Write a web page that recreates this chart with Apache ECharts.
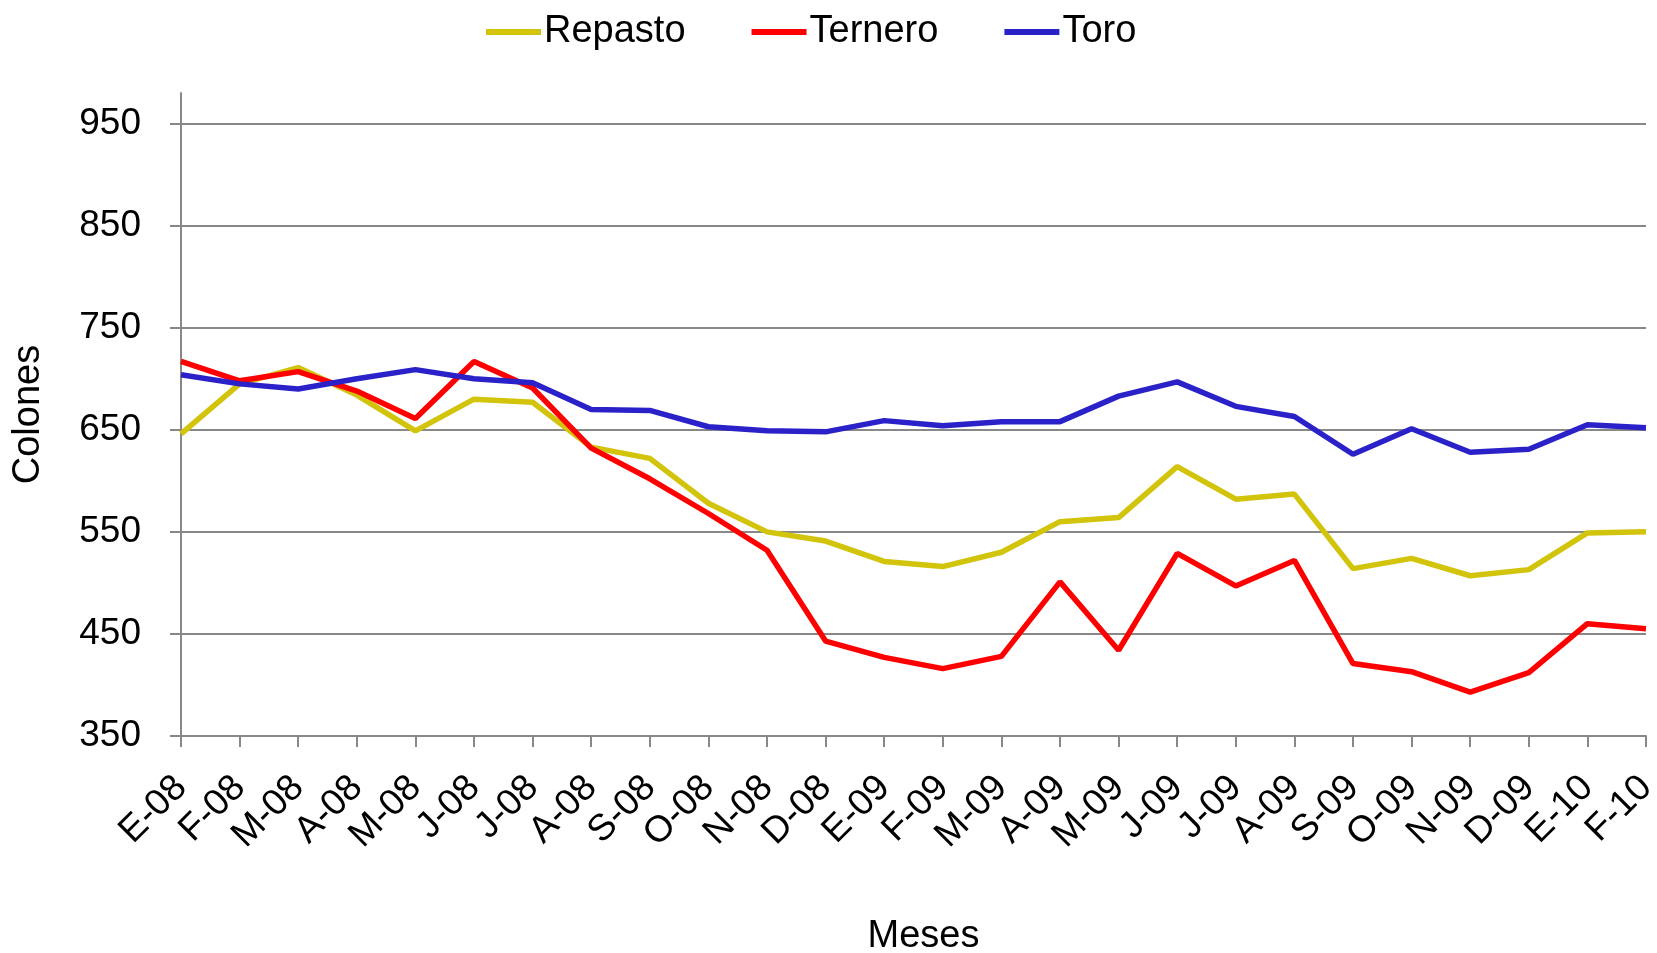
<!DOCTYPE html>
<html>
<head>
<meta charset="utf-8">
<script src="https://cdn.jsdelivr.net/npm/echarts@6/dist/echarts.min.js"></script>
<style>
  html, body { margin: 0; padding: 0; background: #fff; }
  #chart { width: 1657px; height: 953px; }
</style>
</head>
<body>
<div id="chart"></div>
<script>
// meses (duplicados a propósito, como en el original)
var meses = ['E-08', 'F-08', 'M-08', 'A-08', 'M-08', 'J-08', 'J-08', 'A-08', 'S-08', 'O-08', 'N-08', 'D-08',
  'E-09', 'F-09', 'M-09', 'A-09', 'M-09', 'J-09', 'J-09', 'A-09', 'S-09', 'O-09', 'N-09', 'D-09', 'E-10', 'F-10'];

var repasto = [646, 695, 711, 684, 649, 680, 677, 633, 622, 578, 550, 541, 521, 516, 530, 560, 564, 614, 582, 587,
  514, 524, 507, 513, 549, 550];
var ternero = [717, 698, 707, 688, 661, 717, 691, 632, 602, 568, 532, 443, 427, 416, 428, 501, 434, 529, 497, 522,
  421, 413, 393, 412, 460, 455];
var toro = [704, 695, 690, 700, 709, 700, 696, 670, 669, 653, 649, 648, 659, 654, 658, 658, 683, 697, 673, 663,
  626, 651, 628, 631, 655, 652];

var yTicks = [350, 450, 550, 650, 750, 850, 950];

var fuente = '"Liberation Sans", Arial, sans-serif';
var gris = '#888888';

var myChart = echarts.init(document.getElementById('chart'));

function serie(name, data, color) {
  return {
    name: name,
    type: 'line',
    data: data,
    symbol: 'none',
    lineStyle: {width: 5.5, color: color},
    itemStyle: {color: color}
  };
}

myChart.setOption({
  animation: false,
  textStyle: {fontFamily: fuente},
  legend: {
    top: 8,
    left: 481,
    icon: 'rect',
    itemWidth: 55,
    itemHeight: 6,
    itemGap: 66,
    textStyle: {fontSize: 38, color: '#000', fontFamily: fuente, padding: [0, 0, 0, -2]},
    data: ['Repasto', 'Ternero', 'Toro']
  },
  grid: {left: 181, right: 11, top: 93, bottom: 217, outerBoundsMode: 'none'},
  xAxis: {
    type: 'category',
    boundaryGap: false,
    data: meses,
    name: 'Meses',
    nameLocation: 'middle',
    nameGap: 182,
    nameTextStyle: {fontSize: 38, color: '#000', fontFamily: fuente, padding: [0, 0, 0, 20]},
    axisLine: {lineStyle: {color: gris, width: 2}},
    axisTick: {length: 11, lineStyle: {color: gris, width: 2}},
    axisLabel: {rotate: 45, interval: 0, margin: 46, fontSize: 37, color: '#000', fontFamily: fuente},
    splitLine: {show: false}
  },
  yAxis: {
    type: 'value',
    min: 350,
    max: 980,
    name: 'Colones',
    nameLocation: 'middle',
    nameGap: 133,
    nameTextStyle: {fontSize: 38, color: '#000', fontFamily: fuente},
    axisLine: {show: true, lineStyle: {color: gris, width: 2}},
    axisTick: {show: true, length: 11, customValues: yTicks, lineStyle: {color: gris, width: 2}},
    axisLabel: {margin: 40, fontSize: 37, color: '#000', fontFamily: fuente, customValues: yTicks},
    splitLine: {show: true, lineStyle: {color: gris, width: 2}}
  },
  series: [
    serie('Repasto', repasto, '#D2C30B'),
    serie('Ternero', ternero, '#FF0000'),
    serie('Toro', toro, '#2A22C8')
  ]
});
</script>
</body>
</html>
